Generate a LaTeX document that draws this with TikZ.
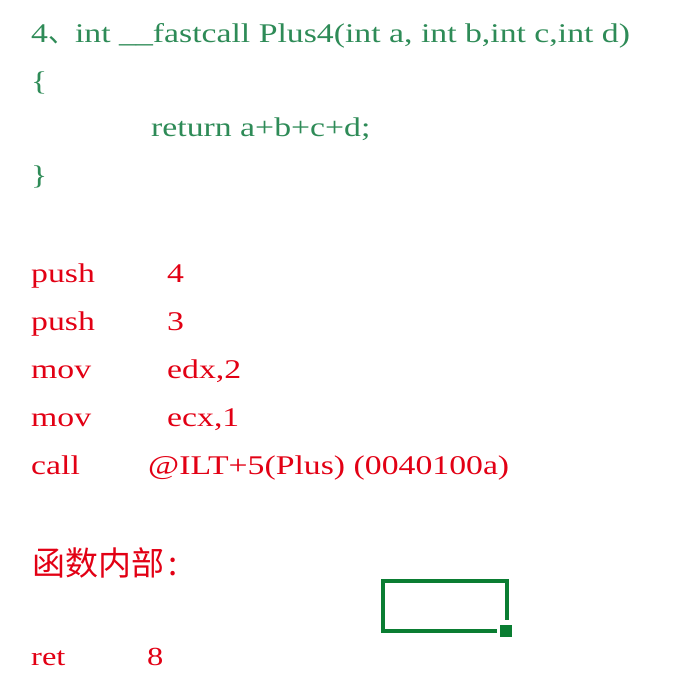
\documentclass[tikz,border=0pt]{standalone}
\usepackage{xcolor}
\usepackage{fontspec}
\setmainfont{Liberation Serif}
\newfontfamily\wide[FakeStretch=1.25]{Liberation Serif}
\newfontfamily\cjk{Noto Sans CJK SC}
\usepackage{tikz}

\definecolor{codegreen}{RGB}{46,139,87}
\definecolor{asmred}{RGB}{226,0,20}
\definecolor{cellgreen}{RGB}{10,125,50}

\begin{document}
\begin{tikzpicture}[x=1pt,y=-1pt,
	code/.style={anchor=base west,inner sep=0pt,text=codegreen,font=\fontsize{27}{27}\wide},
	asm/.style={anchor=base west,inner sep=0pt,text=asmred,font=\fontsize{27}{27}\wide},
	note/.style={anchor=base west,inner sep=0pt,text=asmred,font=\fontsize{26}{26}\wide}]
	\newcommand\mx{31}
	\newcommand\ox{167}
	\newcommand\dy{48}

	\useasboundingbox (0,0) rectangle (686,696);

	\node[code] (head) at (\mx,42) {4{\cjk 、}int \_\_fastcall Plus4(int a, int b,int c,int d)};
	\node[code] (lbr) at (\mx,90) {\{};
	\node[code] (body) at (151,136) {return a+b+c+d;};
	\node[code] (rbr) at (\mx,184) {\}};

	\node[asm] (push1) at (\mx,282) {push}; \node[asm] (arg4) at (\ox,282) {4};
	\node[asm] (push2) at (\mx,282+\dy) {push}; \node[asm] (arg3) at (\ox,282+\dy) {3};
	\node[asm] (mov1) at (\mx,282+2*\dy) {mov}; \node[asm] (arg2) at (\ox,282+2*\dy) {edx,2};
	\node[asm] (mov2) at (\mx,282+3*\dy) {mov}; \node[asm] (arg1) at (\ox,282+3*\dy) {ecx,1};
	\node[asm] (call) at (\mx,282+4*\dy) {call}; \node[asm] (target) at (148,282+4*\dy) {@ILT+5(Plus) (0040100a)};

	\node[note,font=\fontsize{33}{33}\cjk] (inside) at (32,575) {函数内部\hspace{4pt}:};
	\node[note] (ret) at (\mx,665) {ret}; \node[note] (retn) at (147,665) {8};

	\draw[cellgreen,line width=4pt] (497,631) -- (383,631) -- (383,581) -- (507,581) -- (507,620); % cell
	\fill[cellgreen] (500,625) rectangle (512,637);
\end{tikzpicture}
\end{document}
